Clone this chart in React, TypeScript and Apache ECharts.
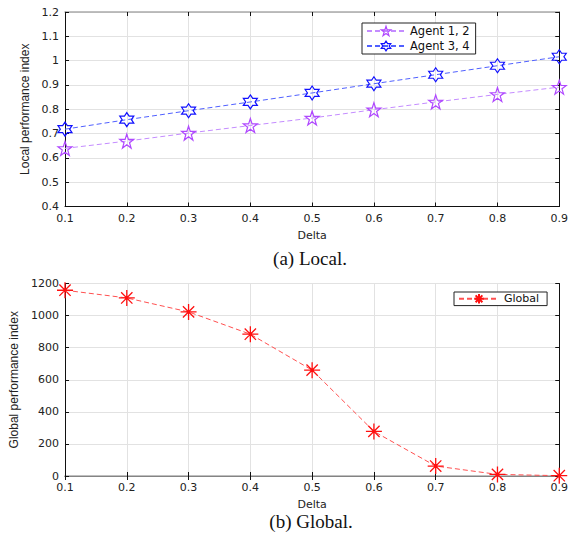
import React, { useEffect, useRef } from "react";
import * as echarts from "echarts";

const deltas = ["0.1", "0.2", "0.3", "0.4", "0.5", "0.6", "0.7", "0.8", "0.9"];
const agent12 = [0.639, 0.669, 0.702, 0.733, 0.764, 0.798, 0.83, 0.861, 0.891];
const agent34 = [0.718, 0.757, 0.794, 0.83, 0.867, 0.905, 0.942, 0.979, 1.016];
const globalIdx = [1158, 1110, 1023, 884, 660, 278, 62, 10, 2];

function starPath(n: number, rOut: number, rIn: number): string {
  const pts: string[] = [];
  for (let k = 0; k < 2 * n; k++) {
    const r = k % 2 === 0 ? rOut : rIn;
    const a = (-90 + (k * 180) / n) * (Math.PI / 180);
    pts.push((k === 0 ? "M" : "L") + (r * Math.cos(a)).toFixed(2) + " " + (r * Math.sin(a)).toFixed(2));
  }
  return "path://" + pts.join(" ") + " Z";
}

const star5 = starPath(5, 10, 3.9);
const hexagram = starPath(6, 10, 5.77);
const asterisk =
  "path://M0 -10 L0 10 M-10 0 L10 0 M-7.07 -7.07 L7.07 7.07 M-7.07 7.07 L7.07 -7.07 M-1.6 0 A1.6 1.6 0 1 0 1.6 0 A1.6 1.6 0 1 0 -1.6 0 Z";

const TICK_FONT = "DejaVu Sans";
const PURPLE = "#b048ff";
const BLUE = "#1010ff";
const RED = "#ff1010";

export default function App() {
  const ref = useRef<HTMLDivElement>(null);
  useEffect(() => {
    if (!ref.current) return;
    const chart = echarts.init(ref.current, undefined, { renderer: "svg" });
    const gridTop = { left: 65, right: 8, top: 12, height: 194.5 };
    const gridBot = { left: 65, right: 8, top: 283.5, height: 192.5 };
    const axisLabel = { fontFamily: TICK_FONT, fontSize: 11, color: "#222" };
    const splitLine = { show: true, lineStyle: { color: "#e2e2e2", width: 1 } };
    const mkX = (gi: number, show: boolean) => ({
      type: "category",
      gridIndex: gi,
      data: deltas,
      boundaryGap: false,
      position: show ? "bottom" : "top",
      name: show ? "Delta" : "",
      nameLocation: "middle",
      nameGap: 23,
      nameTextStyle: { fontFamily: TICK_FONT, fontSize: 11, color: "#222" },
      axisLine: { show: true, lineStyle: { color: show ? "#111" : "#aaa", width: show ? 1 : 1.5 } },
      axisTick: { show: true, inside: true, length: 4, alignWithLabel: true, lineStyle: { color: "#111" } },
      axisLabel: { ...axisLabel, show, margin: 6 },
      splitLine: show ? splitLine : { show: false },
    });
    const mkY = (gi: number, show: boolean, min: number, max: number, interval: number, name: string, gap: number) => ({
      type: "value",
      gridIndex: gi,
      min,
      max,
      interval,
      position: show ? "left" : "right",
      name: show ? name : "",
      nameLocation: "middle",
      nameGap: gap,
      nameTextStyle: { fontFamily: "Liberation Sans", fontSize: 12, color: "#222" },
      axisLine: { show: true, lineStyle: { color: "#111" } },
      axisTick: { show: true, inside: true, length: 4, lineStyle: { color: "#111" } },
      axisLabel: { ...axisLabel, show, margin: 6, formatter: (v: number) => String(Math.round(v * 1000) / 1000) },
      splitLine: show ? splitLine : { show: false },
    });
    const hollow = (c: string) => ({ color: "rgba(255,255,255,0)", borderColor: c, borderWidth: 1.2 });
    chart.setOption({
      animation: false,
      backgroundColor: "#fff",
      grid: [gridTop, gridBot],
      xAxis: [mkX(0, true), mkX(0, false), mkX(1, true), mkX(1, false)],
      yAxis: [
        mkY(0, true, 0.4, 1.2, 0.1, "Local performance index", 30),
        mkY(0, false, 0.4, 1.2, 0.1, "", 0),
        mkY(1, true, 0, 1200, 200, "Global performance index", 44),
        mkY(1, false, 0, 1200, 200, "", 0),
      ],
      legend: [
        {
          data: [
            { name: "Agent 1, 2", itemStyle: hollow(PURPLE) },
            { name: "Agent 3, 4", itemStyle: hollow(BLUE) },
          ],
          orient: "vertical",
          left: 362,
          top: 23,
          width: 127,
          padding: [2, 6, 2, 4],
          itemGap: 3,
          itemWidth: 38,
          itemHeight: 12,
          borderColor: "#222",
          borderWidth: 1,
          backgroundColor: "#fff",
          textStyle: { fontFamily: TICK_FONT, fontSize: 11.5, color: "#111" },
        },
        {
          data: ["Global"],
          orient: "vertical",
          left: 454,
          top: 292,
          padding: [1, 8, 1, 4],
          itemWidth: 40,
          itemHeight: 12,
          borderColor: "#222",
          borderWidth: 1,
          backgroundColor: "#fff",
          textStyle: { fontFamily: TICK_FONT, fontSize: 11, color: "#111" },
        },
      ],
      series: [
        {
          name: "Agent 1, 2",
          type: "line",
          xAxisIndex: 0,
          yAxisIndex: 0,
          data: agent12,
          symbol: star5,
          symbolSize: 14,
          color: PURPLE,
          lineStyle: { color: "#c48cff", width: 1, type: [5, 3] },
          itemStyle: hollow(PURPLE),
        },
        {
          name: "Agent 3, 4",
          type: "line",
          xAxisIndex: 0,
          yAxisIndex: 0,
          data: agent34,
          symbol: hexagram,
          symbolSize: 14,
          color: BLUE,
          lineStyle: { color: "#5060ff", width: 1, type: [5, 3] },
          itemStyle: hollow(BLUE),
        },
        {
          name: "Global",
          type: "line",
          xAxisIndex: 2,
          yAxisIndex: 2,
          data: globalIdx,
          symbol: asterisk,
          symbolSize: 16,
          color: RED,
          lineStyle: { color: "#ff5050", width: 1, type: [5, 3] },
          itemStyle: { color: RED, borderColor: RED, borderWidth: 1.3 },
        },
      ],
      graphic: [
        {
          type: "text",
          x: 310,
          y: 258,
          style: {
            text: "(a) Local.",
            fontFamily: "Liberation Serif",
            fontSize: 19,
            fill: "#111",
            align: "center",
            verticalAlign: "middle",
          },
        },
        {
          type: "text",
          x: 311,
          y: 521,
          style: {
            text: "(b) Global.",
            fontFamily: "Liberation Serif",
            fontSize: 19,
            fill: "#111",
            align: "center",
            verticalAlign: "middle",
          },
        },
      ],
    });
    return () => chart.dispose();
  }, []);
  return (
    <div
      ref={ref}
      style={{ position: "absolute", left: 0, top: 0, width: 571, height: 541, background: "#fff" }}
    />
  );
}
